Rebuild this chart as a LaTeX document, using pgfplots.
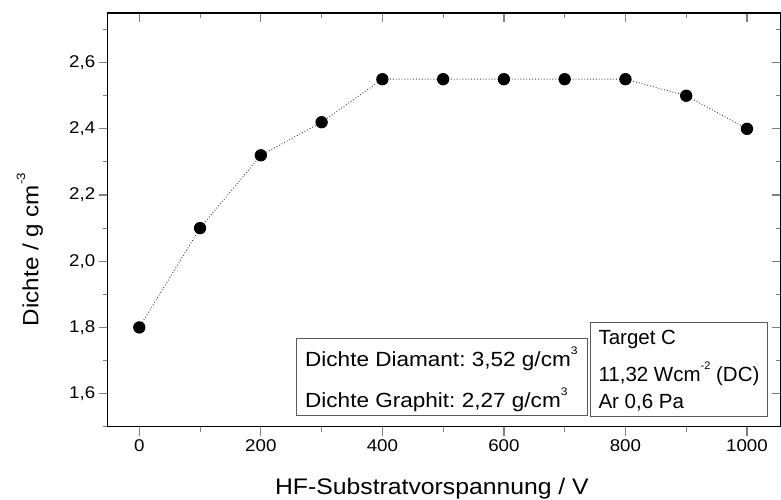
\documentclass[border=0pt]{standalone}
\usepackage{pgfplots}
\pgfplotsset{compat=1.18}
\usepackage{fontspec}
\setmainfont[FakeStretch=1.1]{Liberation Sans}
\newfontfamily\narrowfont{Liberation Sans}
% small raised exponent
\newcommand{\sups}[2][11]{\raisebox{0.6em}{\fontsize{#1}{#1}\selectfont #2}}

\pgfplotstableread{
bias dichte
0    1.80
100  2.10
200  2.32
300  2.42
400  2.55
500  2.55
600  2.55
700  2.55
800  2.55
900  2.50
1000 2.40
}\densitydata

\begin{document}
\frenchspacing
\begin{tikzpicture}
\pgfplotsset{
  frame/.style={
    scale only axis, width=673.3pt, height=413.7pt,
    xmin=-52, xmax=1056, ymin=1.5, ymax=2.75,
    xtick={0,200,...,1000}, minor xtick={100,300,...,900},
    ytick={1.6,1.8,...,2.6}, minor ytick={1.5,1.7,...,2.7},
    axis line style={line width=1.3pt},
    major tick style={line width=1.3pt},
    minor tick style={line width=1.1pt},
    major tick length=9pt, minor tick length=5pt,
    /pgf/number format/assume math mode=true,
    /pgf/number format/use comma,
    /pgf/number format/1000 sep={},
    /pgf/number format/fixed,
    /pgf/number format/precision=1,
    /pgf/number format/fixed zerofill,
  },
}
% top and right: ticks pointing inwards, no labels
\begin{axis}[frame, tick align=inside, xtick pos=upper, ytick pos=upper,
  xticklabels={}, yticklabels={}]
\end{axis}
% left and bottom: ticks pointing outwards, labelled
\begin{axis}[frame, name=ax, tick align=outside, xtick pos=lower, ytick pos=lower,
  clip=false,
  ticklabel style={font=\fontsize{17}{20}\selectfont},
  xticklabel style={/pgf/number format/precision=0, /pgf/number format/fixed zerofill=false},
  ]
\addplot[black!75, line width=0.9pt, dotted,
  mark=*, mark size=5.7pt, mark options={solid, fill=black, draw=black}]
  table[x=bias, y=dichte] {\densitydata};

% info boxes
\draw[black!65, line width=0.9pt] (axis cs:257.8,1.5336) rectangle (axis cs:738,1.7668);
\draw[black!65, line width=0.9pt] (axis cs:741.7,1.5297) rectangle (axis cs:1034,1.815);
\begin{scope}[every node/.style={anchor=base west, inner sep=0pt, font=\fontsize{20.5}{24}\selectfont}]
\node at (axis cs:272.6,1.6805) {Dichte Diamant: 3,52 g/cm\sups{3}};
\node at (axis cs:272.6,1.5569) {Dichte Graphit: 2,27 g/cm\sups{3}};
\node[font=\narrowfont\fontsize{20.5}{24}\selectfont] at (axis cs:755.4,1.7478) {Target C};
\node[font=\narrowfont\fontsize{20.5}{24}\selectfont] at (axis cs:755.4,1.6371) {11,32 Wcm\sups{-2} (DC)};
\node[font=\narrowfont\fontsize{20.5}{24}\selectfont] at (axis cs:755.4,1.5548) {Ar 0,6 Pa};
\end{scope}

% axis titles
\node[anchor=base, inner sep=0pt, font=\fontsize{22.5}{26}\selectfont]
  at ([yshift=-67.3pt]axis cs:481.6,1.5) {HF-Substratvorspannung / V};
\node[anchor=base, rotate=90, inner sep=0pt, font=\fontsize{22}{26}\selectfont]
  at ([xshift=-69.4pt]axis cs:-52,2.035) {Dichte / g cm\sups[12]{-3}};
\end{axis}
\pgfresetboundingbox
\path[use as bounding box] ([xshift=-107.7pt,yshift=-72.3pt]ax.south west) rectangle ([yshift=13pt]ax.north east);
\end{tikzpicture}
\end{document}
